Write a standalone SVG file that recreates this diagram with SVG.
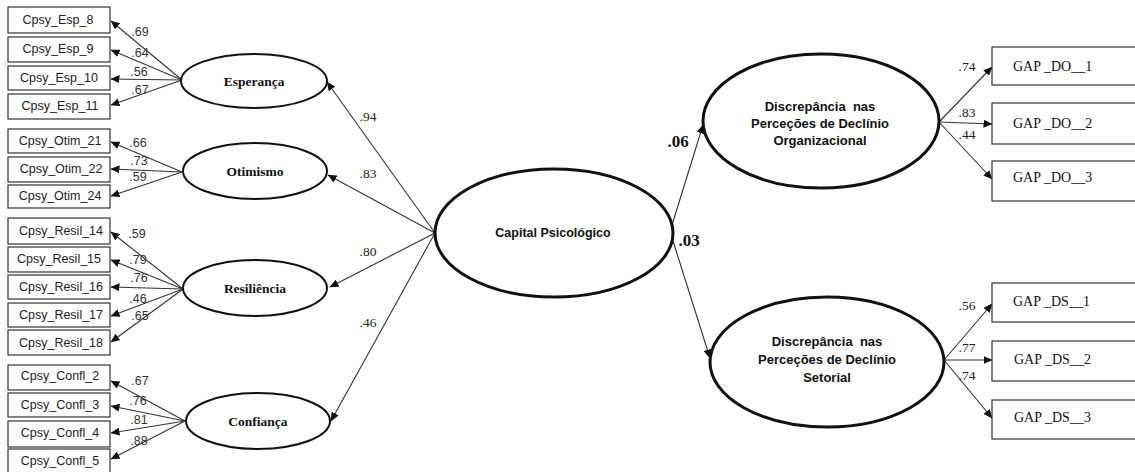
<svg xmlns="http://www.w3.org/2000/svg" width="1135" height="472" viewBox="0 0 1135 472">
  <style>
    .box { fill: #fff; stroke: #333; stroke-width: 1.2; }
    .item { font-family: "Liberation Sans", Arial, sans-serif; font-size: 12.5px; fill: #222; text-anchor: middle; }
    .gap { font-family: "Liberation Serif", "Times New Roman", serif; font-size: 14px; fill: #111; }
    .lat { fill: #fff; stroke: #111; stroke-width: 2; }
    .latBig { fill: #fff; stroke: #111; stroke-width: 3; }
    .latName { font-family: "Liberation Serif", "Times New Roman", serif; font-size: 13.5px; font-weight: bold; fill: #111; text-anchor: middle; }
    .latSans { font-family: "Liberation Sans", Arial, sans-serif; font-size: 13px; font-weight: bold; fill: #111; text-anchor: middle; white-space: pre; }
    .edge { stroke: #333; stroke-width: 1.1; fill: none; marker-end: url(#arr); }
    .wL { font-family: "Liberation Sans", Arial, sans-serif; font-size: 12.5px; fill: #333; text-anchor: middle; }
    .wS { font-family: "Liberation Serif", "Times New Roman", serif; font-size: 13.5px; fill: #222; text-anchor: middle; }
    .wB { font-family: "Liberation Serif", "Times New Roman", serif; font-size: 17px; font-weight: bold; fill: #111; text-anchor: middle; }
  </style>
  <defs>
    <marker id="arr" markerUnits="userSpaceOnUse" markerWidth="9" markerHeight="8" refX="8.5" refY="4" orient="auto">
      <path d="M0,0 L9,4 L0,8 Z" fill="#111"/>
    </marker>
  </defs>
  <rect width="1135" height="472" fill="#fff"/>

  <!-- connectors -->
  <g id="connectors">
    <!-- Esperança indicators -->
    <line class="edge" x1="182" y1="80" x2="111" y2="21"/>
    <line class="edge" x1="182" y1="80" x2="111" y2="50"/>
    <line class="edge" x1="182" y1="80" x2="111" y2="79"/>
    <line class="edge" x1="182" y1="80" x2="111" y2="105"/>
    <!-- Otimismo indicators -->
    <line class="edge" x1="182" y1="172" x2="111" y2="142"/>
    <line class="edge" x1="182" y1="172" x2="111" y2="169"/>
    <line class="edge" x1="182" y1="172" x2="111" y2="196"/>
    <!-- Resiliência indicators -->
    <line class="edge" x1="183" y1="289" x2="111" y2="232"/>
    <line class="edge" x1="183" y1="289" x2="111" y2="260"/>
    <line class="edge" x1="183" y1="289" x2="111" y2="287"/>
    <line class="edge" x1="183" y1="289" x2="111" y2="316"/>
    <line class="edge" x1="183" y1="289" x2="111" y2="342"/>
    <!-- Confiança indicators -->
    <line class="edge" x1="185" y1="421" x2="111" y2="381"/>
    <line class="edge" x1="185" y1="421" x2="111" y2="406"/>
    <line class="edge" x1="185" y1="421" x2="111" y2="433"/>
    <line class="edge" x1="185" y1="421" x2="111" y2="459"/>
    <!-- Capital Psicológico to first-order factors -->
    <line class="edge" x1="435" y1="233" x2="327" y2="82"/>
    <line class="edge" x1="435" y1="233" x2="328" y2="175"/>
    <line class="edge" x1="435" y1="233" x2="330" y2="287"/>
    <line class="edge" x1="435" y1="233" x2="331" y2="421"/>
    <!-- Capital Psicológico to outcomes -->
    <line class="edge" x1="672" y1="225" x2="703" y2="125"/>
    <line class="edge" x1="673" y1="241" x2="710" y2="358"/>
    <!-- Organizacional indicators -->
    <line class="edge" x1="939" y1="122" x2="992" y2="67"/>
    <line class="edge" x1="939" y1="122" x2="992" y2="124"/>
    <line class="edge" x1="939" y1="122" x2="992" y2="179"/>
    <!-- Setorial indicators -->
    <line class="edge" x1="944" y1="360" x2="992" y2="304"/>
    <line class="edge" x1="944" y1="360" x2="992" y2="360"/>
    <line class="edge" x1="944" y1="360" x2="992" y2="418"/>
  </g>

  <!-- loadings -->
  <g id="loadings">
    <text class="wL" x="140" y="36">.69</text>
    <text class="wL" x="140" y="57">.64</text>
    <text class="wL" x="139" y="76">.56</text>
    <text class="wL" x="140" y="94">.67</text>
    <text class="wL" x="138" y="147">.66</text>
    <text class="wL" x="139" y="165">.73</text>
    <text class="wL" x="138" y="181">.59</text>
    <text class="wL" x="137" y="238">.59</text>
    <text class="wL" x="138" y="264">.79</text>
    <text class="wL" x="139" y="282">.76</text>
    <text class="wL" x="138" y="303">.46</text>
    <text class="wL" x="140" y="320">.65</text>
    <text class="wL" x="140" y="385">.67</text>
    <text class="wL" x="138" y="405">.76</text>
    <text class="wL" x="139" y="424">.81</text>
    <text class="wL" x="139" y="445">.88</text>
    <text class="wS" x="368" y="121">.94</text>
    <text class="wS" x="368" y="178">.83</text>
    <text class="wS" x="368" y="256">.80</text>
    <text class="wS" x="368" y="327">.46</text>
    <text class="wB" x="678" y="147">.06</text>
    <text class="wB" x="689" y="246">.03</text>
    <text class="wS" x="967" y="71">.74</text>
    <text class="wS" x="967" y="117">.83</text>
    <text class="wS" x="967" y="139">.44</text>
    <text class="wS" x="967" y="310">.56</text>
    <text class="wS" x="967" y="352">.77</text>
    <text class="wS" x="967" y="380">.74</text>
  </g>

  <!-- observed indicators, left -->
  <g id="Cpsy_Esp_8"><rect class="box" x="8" y="7" width="102" height="26"/><text class="item" x="58" y="24">Cpsy_Esp_8</text></g>
  <g id="Cpsy_Esp_9"><rect class="box" x="8" y="37" width="102" height="25"/><text class="item" x="58" y="53">Cpsy_Esp_9</text></g>
  <g id="Cpsy_Esp_10"><rect class="box" x="8" y="66" width="102" height="24"/><text class="item" x="59" y="82">Cpsy_Esp_10</text></g>
  <g id="Cpsy_Esp_11"><rect class="box" x="8" y="94" width="102" height="25"/><text class="item" x="60" y="110">Cpsy_Esp_11</text></g>
  <g id="Cpsy_Otim_21"><rect class="box" x="8" y="129" width="102" height="24"/><text class="item" x="60" y="145">Cpsy_Otim_21</text></g>
  <g id="Cpsy_Otim_22"><rect class="box" x="8" y="157" width="102" height="25"/><text class="item" x="61" y="173">Cpsy_Otim_22</text></g>
  <g id="Cpsy_Otim_24"><rect class="box" x="8" y="185" width="102" height="23"/><text class="item" x="60" y="200">Cpsy_Otim_24</text></g>
  <g id="Cpsy_Resil_14"><rect class="box" x="8" y="218" width="102" height="26"/><text class="item" x="61" y="235">Cpsy_Resil_14</text></g>
  <g id="Cpsy_Resil_15"><rect class="box" x="8" y="247" width="102" height="25"/><text class="item" x="59" y="263">Cpsy_Resil_15</text></g>
  <g id="Cpsy_Resil_16"><rect class="box" x="8" y="275" width="102" height="24"/><text class="item" x="61" y="291">Cpsy_Resil_16</text></g>
  <g id="Cpsy_Resil_17"><rect class="box" x="8" y="303" width="102" height="24"/><text class="item" x="61" y="319">Cpsy_Resil_17</text></g>
  <g id="Cpsy_Resil_18"><rect class="box" x="8" y="330" width="102" height="25"/><text class="item" x="61" y="347">Cpsy_Resil_18</text></g>
  <g id="Cpsy_Confl_2"><rect class="box" x="8" y="365" width="102" height="25"/><text class="item" x="60" y="380">Cpsy_Confl_2</text></g>
  <g id="Cpsy_Confl_3"><rect class="box" x="8" y="393" width="102" height="24"/><text class="item" x="60" y="409">Cpsy_Confl_3</text></g>
  <g id="Cpsy_Confl_4"><rect class="box" x="8" y="421" width="102" height="26"/><text class="item" x="60" y="437">Cpsy_Confl_4</text></g>
  <g id="Cpsy_Confl_5"><rect class="box" x="8" y="449" width="102" height="30"/><text class="item" x="60" y="465">Cpsy_Confl_5</text></g>

  <!-- first-order factors -->
  <g id="Esperanca"><ellipse class="lat" cx="254" cy="81" rx="73" ry="27"/><text class="latName" x="254" y="86">Esperança</text></g>
  <g id="Otimismo"><ellipse class="lat" cx="255" cy="171" rx="72" ry="28"/><text class="latName" x="255" y="176">Otimismo</text></g>
  <g id="Resiliencia"><ellipse class="lat" cx="255" cy="288" rx="72" ry="28"/><text class="latName" x="255" y="293">Resiliência</text></g>
  <g id="Confianca"><ellipse class="lat" cx="258" cy="421" rx="72" ry="28"/><text class="latName" x="258" y="426">Confiança</text></g>

  <!-- second-order factor -->
  <g id="Capital_Psicologico"><ellipse class="latBig" cx="554" cy="233" rx="119" ry="64"/><text class="latSans" x="553" y="237" style="font-size:12.5px">Capital Psicológico</text></g>

  <!-- outcome factors -->
  <g id="Declinio_Organizacional">
    <ellipse class="latBig" cx="821" cy="121" rx="118" ry="67"/>
    <text class="latSans" x="820" y="111">Discrepância  nas</text>
    <text class="latSans" x="820" y="128">Perceções de Declínio</text>
    <text class="latSans" x="820" y="145">Organizacional</text>
  </g>
  <g id="Declinio_Setorial">
    <ellipse class="latBig" cx="827" cy="362" rx="117" ry="65"/>
    <text class="latSans" x="827" y="346">Discrepância  nas</text>
    <text class="latSans" x="827" y="364">Perceções de Declínio</text>
    <text class="latSans" x="827" y="382">Setorial</text>
  </g>

  <!-- observed indicators, right -->
  <g id="GAP_DO_1"><rect class="box" x="992" y="47" width="150" height="38"/><text class="gap" x="1013" y="71">GAP _DO__1</text></g>
  <g id="GAP_DO_2"><rect class="box" x="992" y="103" width="150" height="41"/><text class="gap" x="1013" y="128">GAP _DO__2</text></g>
  <g id="GAP_DO_3"><rect class="box" x="992" y="161" width="150" height="40"/><text class="gap" x="1013" y="182">GAP _DO__3</text></g>
  <g id="GAP_DS_1"><rect class="box" x="992" y="283" width="150" height="39"/><text class="gap" x="1013" y="306">GAP _DS__1</text></g>
  <g id="GAP_DS_2"><rect class="box" x="992" y="341" width="150" height="40"/><text class="gap" x="1014" y="364">GAP _DS__2</text></g>
  <g id="GAP_DS_3"><rect class="box" x="992" y="400" width="150" height="39"/><text class="gap" x="1014" y="422">GAP _DS__3</text></g>
</svg>
